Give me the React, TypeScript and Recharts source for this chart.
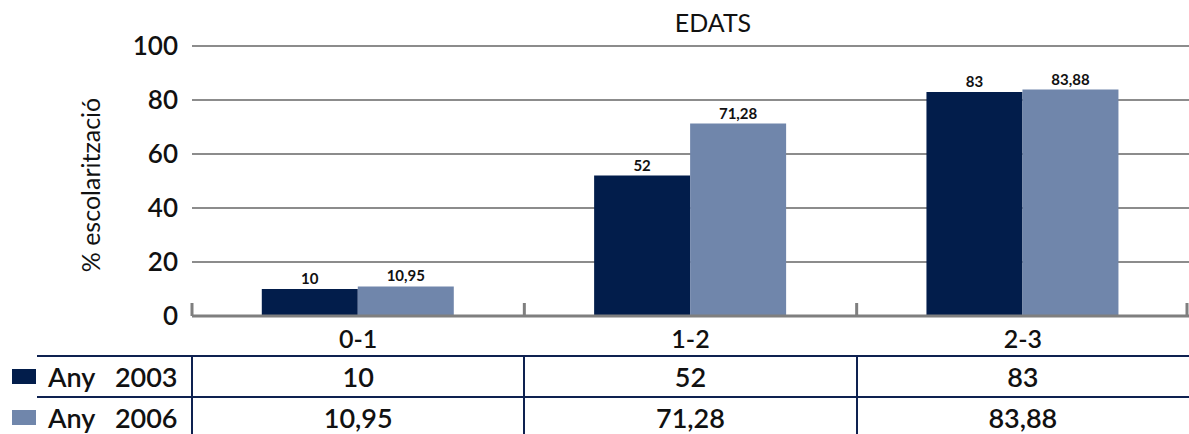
import { BarChart, Bar, XAxis, YAxis, CartesianGrid, LabelList } from "recharts";

document.body.style.margin = "0";

const categories = ["0-1", "1-2", "2-3"];
const any2003 = [10, 52, 83];
const any2006 = [10.95, 71.28, 83.88];
const seriesNames = ["Any   2003", "Any   2006"];
const yTicks = [0, 20, 40, 60, 80, 100];

const DARK = "#021d4b";
const LIGHT = "#7086ab";
const NAVY = "#0e2150";
const AXIS = "#7f7f7f";
const FONT = "Lato, 'Open Sans', sans-serif";

const W = 1189;
const H = 434;
const PLOT_LEFT = 192;
const PLOT_TOP = 46;
const PLOT_BOTTOM = 316;

const data = categories.map((c, i) => ({ edat: c, a2003: any2003[i], a2006: any2006[i] }));

const fmt = (v: number) => String(v).replace(".", ",");

const CategoryTick = (props: any) => {
    const { x, y, payload, index, visibleTicksCount } = props;
    const half = payload && payload.offset ? payload.offset : (W - PLOT_LEFT) / categories.length / 2;
    return (
        <g>
            <line x1={x - half} x2={x - half} y1={y - 13} y2={y} stroke={AXIS} strokeWidth={3} />
            {index === visibleTicksCount - 1 && (
                <line x1={x + half - 2} x2={x + half - 2} y1={y - 13} y2={y} stroke={AXIS} strokeWidth={3} />
            )}
            <text x={x} y={y + 32} textAnchor="middle" fontSize={25} fontWeight={600} fill="#111" fontFamily={FONT}>
                {payload.value}
            </text>
        </g>
    );
};

const ValueTick = (props: any) => {
    const { x, y, payload } = props;
    return (
        <text x={x} y={y} dy={9} textAnchor="end" fontSize={26} fontWeight={600} fill="#111" fontFamily={FONT}>
            {payload.value}
        </text>
    );
};

const colW = (W - PLOT_LEFT) / categories.length;
const rows = [any2003, any2006];
const rowColors = [DARK, LIGHT];
const rowCenters = [377, 418];

export default function App() {
    return (
        <div style={{ position: "relative", width: W, height: H, background: "#fff", fontFamily: FONT, color: "#111" }}>
            <BarChart
                width={W}
                height={H}
                data={data}
                margin={{ top: PLOT_TOP, right: 0, left: 0, bottom: 0 }}
                barCategoryGap="21%"
                barGap={0}
            >
                <CartesianGrid horizontal vertical={false} stroke="#8c8c8c" strokeWidth={2} />
                <YAxis
                    type="number"
                    domain={[0, 100]}
                    ticks={yTicks}
                    width={PLOT_LEFT}
                    axisLine={false}
                    tickLine={false}
                    tickSize={0}
                    tick={(p: any) => <ValueTick {...p} x={178} />}
                />
                <XAxis
                    dataKey="edat"
                    height={H - PLOT_BOTTOM}
                    axisLine={{ stroke: AXIS, strokeWidth: 3 }}
                    tickLine={false}
                    tickSize={0}
                    tickMargin={0}
                    tick={<CategoryTick />}
                    interval={0}
                />
                <Bar dataKey="a2003" fill={DARK} isAnimationActive={false}>
                    <LabelList dataKey="a2003" position="top" offset={5} formatter={(v: any) => fmt(v)}
                               style={{ fontSize: 15, fontWeight: 700, fill: "#111", fontFamily: FONT }} />
                </Bar>
                <Bar dataKey="a2006" fill={LIGHT} isAnimationActive={false}>
                    <LabelList dataKey="a2006" position="top" offset={5} formatter={(v: any) => fmt(v)}
                               style={{ fontSize: 15, fontWeight: 700, fill: "#111", fontFamily: FONT }} />
                </Bar>
            </BarChart>

            <div style={{ position: "absolute", left: 0, top: 0, width: W, height: H, pointerEvents: "none" }}>
                <div style={{ position: "absolute", left: 613, width: 200, top: 8, textAlign: "center", fontSize: 25, lineHeight: "28px" }}>
                    EDATS
                </div>
                <div
                    style={{
                        position: "absolute",
                        left: 90 - 120,
                        top: 185 - 15,
                        width: 240,
                        height: 30,
                        lineHeight: "30px",
                        fontSize: 25,
                        textAlign: "center",
                        transform: "rotate(-90deg)",
                    }}
                >
                    % escolarització
                </div>

                <div style={{ position: "absolute", left: 37, top: 355, width: W - 37, height: 2, background: NAVY }} />
                <div style={{ position: "absolute", left: 37, top: 396, width: W - 37, height: 2, background: NAVY }} />
                {categories.map((_, i) => (
                    <div key={"v" + i} style={{ position: "absolute", left: PLOT_LEFT + i * colW - 1, top: 356, width: 2, height: H - 356, background: NAVY }} />
                ))}

                {rows.map((vals, r) => (
                    <div key={"r" + r}>
                        <div style={{ position: "absolute", left: 12, top: rowCenters[r] - 8, width: 24, height: 15, background: rowColors[r] }} />
                        <div style={{ position: "absolute", left: 48, top: rowCenters[r] - 15, height: 30, lineHeight: "30px", fontSize: 27, fontWeight: 600, whiteSpace: "pre" }}>
                            {seriesNames[r]}
                        </div>
                        {vals.map((v, i) => (
                            <div
                                key={i}
                                style={{
                                    position: "absolute",
                                    left: PLOT_LEFT + i * colW,
                                    width: colW,
                                    top: rowCenters[r] - 15,
                                    height: 30,
                                    lineHeight: "30px",
                                    fontSize: 27,
                                    fontWeight: 600,
                                    textAlign: "center",
                                }}
                            >
                                {fmt(v)}
                            </div>
                        ))}
                    </div>
                ))}
            </div>
        </div>
    );
}
